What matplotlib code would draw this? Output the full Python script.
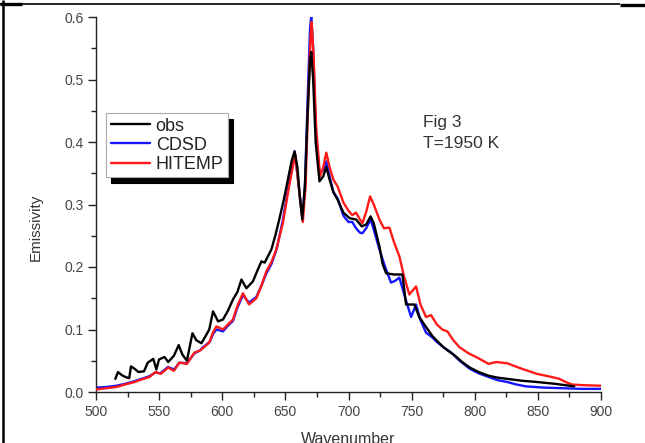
import matplotlib
matplotlib.use("Agg")
import matplotlib.pyplot as plt
from matplotlib.lines import Line2D
from matplotlib.ticker import MultipleLocator

plt.rcParams['font.family'] = ['Liberation Sans', 'DejaVu Sans']

# Observed emissivity spectrum
obs_x = [515.3, 517.4, 520.4, 523.3, 526.3, 527.7, 530.7, 533.6, 538, 541, 545.4, 547.8, 549.9,
         554.3, 557.2, 561.7, 565.5, 568.4, 572, 576.4, 579.4, 583.5, 586.7, 589.7, 592.7, 596.7,
         600.6, 604.5, 608.5, 612, 615.2, 619.1, 624.3, 628, 631, 633.6, 638.9, 642, 645.5, 649,
         652, 655, 657.3, 659.5, 661.5, 663.4, 665.5, 667.5, 669.5, 670.5, 672, 674, 677, 680,
         682.4, 685, 688, 691.3, 696, 701, 706, 710.5, 714, 717.5, 720, 724.5, 727, 729.8, 736,
         742.7, 745.6, 752.2, 756, 761.4, 766.7, 771, 775.5, 784.4, 790, 796.2, 803, 811, 818,
         825.7, 837.5, 849.3, 864, 878.8]
obs_y = [0.021, 0.032, 0.027, 0.024, 0.022, 0.041, 0.037, 0.032, 0.033, 0.047, 0.053, 0.036, 0.052,
         0.056, 0.048, 0.058, 0.075, 0.060, 0.050, 0.094, 0.083, 0.078, 0.089, 0.100, 0.129, 0.113,
         0.116, 0.130, 0.148, 0.160, 0.180, 0.166, 0.177, 0.195, 0.209, 0.207, 0.228, 0.250, 0.279, 0.310,
         0.340, 0.370, 0.385, 0.360, 0.310, 0.276, 0.330, 0.440, 0.530, 0.544, 0.500, 0.400, 0.337, 0.345,
         0.360, 0.340, 0.320, 0.308, 0.287, 0.278, 0.276, 0.265, 0.268, 0.281, 0.270, 0.233, 0.205, 0.190, 0.188,
         0.188, 0.140, 0.140, 0.120, 0.104, 0.089, 0.080, 0.071, 0.058, 0.048, 0.039, 0.032, 0.026, 0.023,
         0.021, 0.018, 0.016, 0.013, 0.009]

# CDSD line-by-line calculation
cdsd_x = [500, 508, 516, 523, 530, 536, 542, 547, 551, 557, 562, 566, 572, 578, 582, 585, 590, 593,
          595.5, 600.6, 604, 608.5, 612, 616.4, 621.2, 627, 631, 635, 639, 643, 648, 653, 657.3, 660,
          663.4, 665.5, 667.5, 669.5, 670.5, 672, 674, 677, 680, 682.4, 685, 688, 691.3, 696, 700, 703,
          706, 709, 711, 714, 717.5, 720, 724.5, 729, 733.7, 737, 740.3, 745, 749.6, 753.5, 757, 761.4,
          766, 770, 775, 781.4, 788, 796.2, 803, 811, 818, 825.7, 833, 840.5, 855, 870, 885, 900]
cdsd_y = [0.007, 0.008, 0.010, 0.013, 0.017, 0.021, 0.025, 0.031, 0.030, 0.040, 0.036, 0.047, 0.046, 0.062,
          0.066, 0.072, 0.080, 0.094, 0.100, 0.097, 0.105, 0.114, 0.135, 0.155, 0.143, 0.152, 0.170, 0.190,
          0.205, 0.228, 0.275, 0.335, 0.385, 0.340, 0.280, 0.330, 0.460, 0.580, 0.602, 0.550, 0.420, 0.350,
          0.355, 0.369, 0.345, 0.320, 0.310, 0.282, 0.272, 0.272, 0.262, 0.255, 0.254, 0.262, 0.276, 0.260,
          0.228, 0.200, 0.175, 0.178, 0.183, 0.150, 0.120, 0.140, 0.115, 0.095, 0.088, 0.080, 0.072, 0.063,
          0.050, 0.037, 0.030, 0.024, 0.019, 0.016, 0.012, 0.009, 0.007, 0.006, 0.005, 0.005]

# HITEMP line-by-line calculation
hit_x = [500, 508, 516, 523, 530.7, 536, 542.5, 547, 551.3, 557.2, 561.7, 566, 572, 577.9, 582, 585.2,
         589.7, 592.6, 595.4, 600.6, 604, 608.5, 612, 616.4, 621.2, 627, 631, 634.9, 639, 642.8, 648,
         653, 657.8, 660.5, 663.8, 666, 668, 670, 670.8, 672.3, 674.5, 677.5, 680, 682.4, 685, 688,
         691.3, 696, 700, 703, 706, 708.5, 711, 714, 717.1, 720, 724.5, 728, 732.4, 736, 740.3, 744,
         748.2, 753.5, 757, 761.4, 765.4, 770, 774.3, 778.3, 783, 787.7, 795, 802, 811, 817, 825.7,
         837.5, 849.3, 861, 867, 873, 877, 885, 900]
hit_y = [0.004, 0.006, 0.008, 0.012, 0.016, 0.020, 0.024, 0.032, 0.029, 0.039, 0.034, 0.047, 0.045, 0.063,
         0.066, 0.071, 0.079, 0.095, 0.105, 0.100, 0.107, 0.116, 0.138, 0.158, 0.140, 0.150, 0.170, 0.193,
         0.208, 0.228, 0.270, 0.330, 0.380, 0.330, 0.272, 0.330, 0.460, 0.570, 0.592, 0.540, 0.420, 0.345,
         0.360, 0.383, 0.360, 0.340, 0.329, 0.303, 0.290, 0.283, 0.287, 0.278, 0.270, 0.288, 0.313, 0.300,
         0.276, 0.262, 0.263, 0.240, 0.217, 0.185, 0.156, 0.169, 0.140, 0.120, 0.123, 0.108, 0.100, 0.097,
         0.083, 0.072, 0.062, 0.055, 0.045, 0.048, 0.046, 0.037, 0.029, 0.024, 0.021, 0.015, 0.012, 0.011,
         0.010]

x_ticks = [500, 550, 600, 650, 700, 750, 800, 850, 900]
y_ticks = [0.0, 0.1, 0.2, 0.3, 0.4, 0.5, 0.6]
series_labels = ["obs", "CDSD", "HITEMP"]

W, H = 645, 443
fig = plt.figure(figsize=(W / 100, H / 100), dpi=100)
ax = fig.add_axes([96 / W, 1 - 392 / H, 505 / W, 375 / H])

line_kw = dict(lw=1.7, solid_joinstyle="round", solid_capstyle="round")
l_cdsd, = ax.plot(cdsd_x, cdsd_y, color="#1515ff", zorder=2, label=series_labels[1], **line_kw)
l_hit, = ax.plot(hit_x, hit_y, color="#ff1a1a", zorder=3, label=series_labels[2], **line_kw)
l_obs, = ax.plot(obs_x, obs_y, color="black", zorder=4, label=series_labels[0], **line_kw)

ax.set_xlim(x_ticks[0], x_ticks[-1])
ax.set_ylim(y_ticks[0], y_ticks[-1])
ax.set_xticks(x_ticks)
ax.set_yticks(y_ticks)
ax.set_xticklabels([str(v) for v in x_ticks])
ax.set_yticklabels([f"{v:.1f}" for v in y_ticks])
ax.xaxis.set_minor_locator(MultipleLocator(25))
ax.yaxis.set_minor_locator(MultipleLocator(0.05))

for s in ("top", "right"):
    ax.spines[s].set_visible(False)
for s in ("left", "bottom"):
    ax.spines[s].set_linewidth(1.0)
    ax.spines[s].set_color("#222222")

ax.tick_params(which="major", direction="out", length=6, width=1.0, color="#222222",
               labelsize=10, labelcolor="#444444", pad=3)
ax.tick_params(which="minor", direction="out", length=3.5, width=1.0, color="#222222")

ax.set_xlabel("Wavenumber", fontsize=11.5, color="#333333", va="top")
ax.xaxis.set_label_coords(0.5, -0.107)
ax.set_ylabel("Emissivity", fontsize=11, color="#333333")
ax.yaxis.set_label_coords(-0.106, 0.44)

leg = ax.legend(handles=[l_obs, l_cdsd, l_hit], loc="upper left",
                bbox_to_anchor=((106 - 96) / 505, (392 - 113) / 375),
                fontsize=13, frameon=True, fancybox=False, framealpha=1,
                edgecolor="#aaaaaa", borderpad=0.25, labelspacing=0.12,
                handlelength=2.2, handletextpad=0.3, borderaxespad=0,
                shadow={"ox": 3.5, "oy": -4, "color": "black", "alpha": 1})
leg.get_frame().set_linewidth(0.8)
for t in leg.get_texts():
    t.set_color("#222222")

ax.text((423 - 96) / 505, (392 - 122) / 375, "Fig 3", transform=ax.transAxes,
        fontsize=12.5, color="#333333", va="center", ha="left")
ax.text((423 - 96) / 505, (392 - 143) / 375, "T=1950 K", transform=ax.transAxes,
        fontsize=12.5, color="#333333", va="center", ha="left")

# page border lines around the figure
def px_line(x0, y0, x1, y1, lw):
    fig.add_artist(Line2D([x0 / W, x1 / W], [1 - y0 / H, 1 - y1 / H],
                          transform=fig.transFigure, color="black", lw=lw,
                          solid_capstyle="butt"))

px_line(3, 0, 3, H, 1.8)
px_line(0, 3.5, 620, 3.5, 1.2)
px_line(0, 4, 22, 4, 2.4)
px_line(620, 5, W, 5, 2.4)

fig.savefig("out.png", dpi=100)
